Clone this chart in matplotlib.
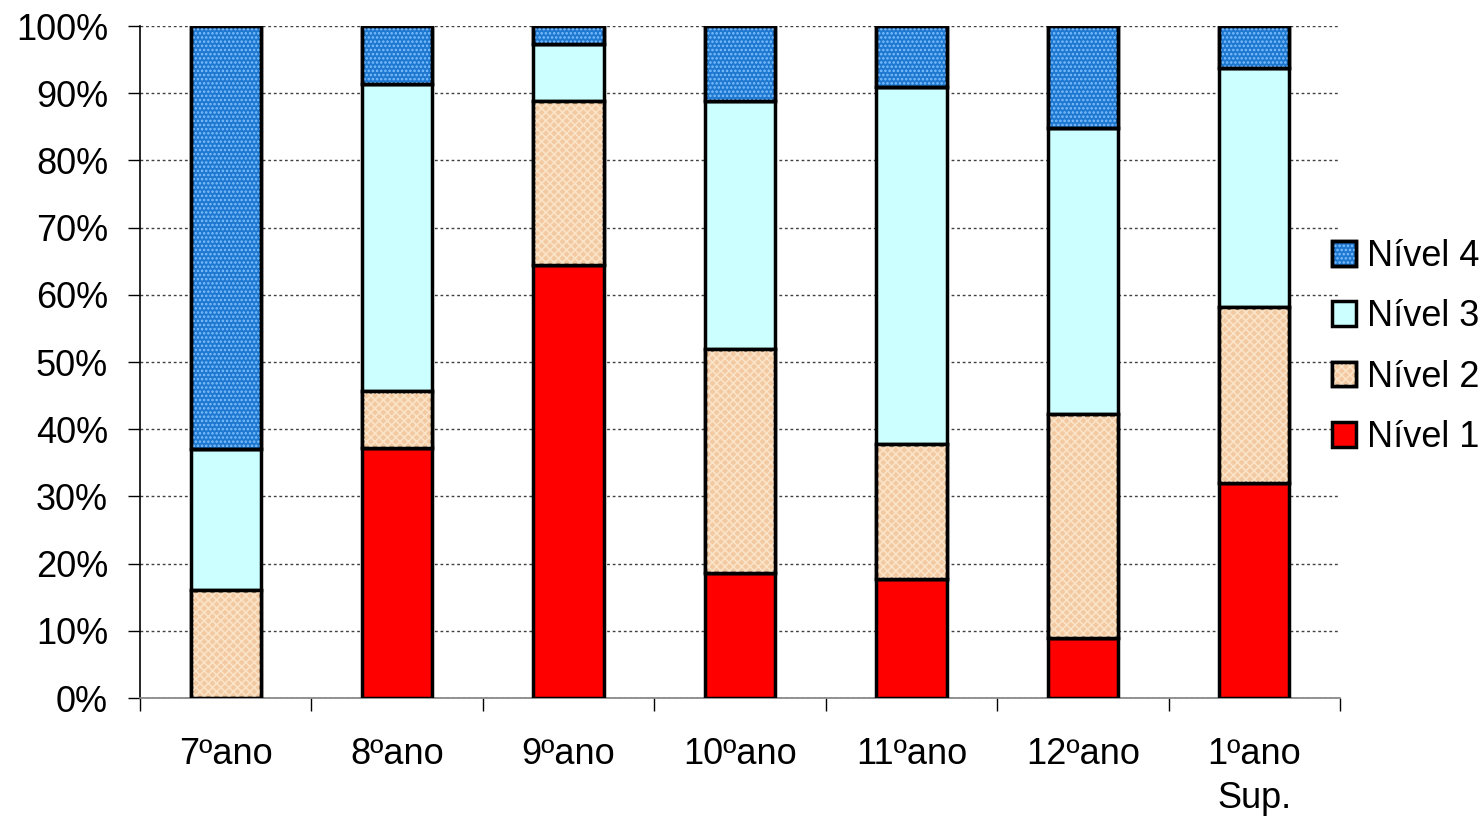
import matplotlib.pyplot as plt
import numpy as np
from matplotlib.patches import Patch
from matplotlib.legend_handler import HandlerTuple

plt.rcParams['font.family'] = ['Liberation Sans', 'DejaVu Sans']

anos = ['7ºano', '8ºano', '9ºano', '10ºano', '11ºano', '12ºano', '1ºano\nSup.']
nivel1 = [0.0, 37.2, 64.4, 18.6, 17.7, 8.9, 32.0]
nivel2 = [16.0, 8.5, 24.4, 33.3, 20.1, 33.4, 26.2]
nivel3 = [21.0, 45.7, 8.5, 36.9, 53.1, 42.5, 35.5]
nivel4 = [63.0, 8.6, 2.7, 11.2, 9.1, 15.2, 6.3]

niveis = ['Nível 1', 'Nível 2', 'Nível 3', 'Nível 4']
cores = ['#ff0000', '#f2c9a0', '#ccffff', '#1f78d0']
hatches = [None, 'xxxx', None, '....']
cor_hatch = [None, '#fbe3c8', None, '#7fc0ff']

fig = plt.figure(figsize=(14.84, 8.19), dpi=100)
ax = fig.add_axes([140 / 1484, 1 - 698 / 819, 1200 / 1484, 672 / 819])

x = np.arange(len(anos))
largura = 0.41
lw = 2.5
plt.rcParams['hatch.linewidth'] = 1.2

base = np.zeros(len(anos))
handles = []
for vals, nome, cor, h, hc in zip([nivel1, nivel2, nivel3, nivel4], niveis, cores, hatches, cor_hatch):
    vals = np.array(vals)
    mask = vals > 0
    ax.bar(x[mask], vals[mask], largura, bottom=base[mask], color=cor,
           edgecolor='black', linewidth=lw, zorder=3)
    if h:
        ax.bar(x[mask], vals[mask], largura, bottom=base[mask], fill=False,
               edgecolor=hc, linewidth=0, hatch=h, zorder=4)
        ax.bar(x[mask], vals[mask], largura, bottom=base[mask], fill=False,
               edgecolor='black', linewidth=lw, zorder=5)
        handles.append((Patch(facecolor=cor, edgecolor='black', linewidth=lw),
                        Patch(fill=False, edgecolor=hc, linewidth=0, hatch=h),
                        Patch(fill=False, edgecolor='black', linewidth=lw)))
    else:
        handles.append(Patch(facecolor=cor, edgecolor='black', linewidth=lw))
    base = base + vals

ax.set_xlim(-0.5, len(anos) - 0.5)
ax.set_ylim(0, 100)
ax.set_yticks(np.arange(0, 101, 10))
ax.set_yticklabels([f'{v}%' for v in range(0, 101, 10)], fontsize=26)
ax.set_xticks(x)
ax.set_xticklabels(anos, fontsize=26, linespacing=1.35)
ax.set_xticks(np.arange(-0.5, len(anos) - 0.4, 1), minor=True)
ax.tick_params(axis='x', which='major', length=0, pad=28)
ax.tick_params(axis='x', which='minor', length=9, width=1, direction='out')
ax.tick_params(axis='y', length=9, width=1, direction='out', pad=14)

ax.yaxis.grid(True, linestyle=(0, (2, 2)), color='#404040', linewidth=1, zorder=0)
ax.set_axisbelow(True)
for s in ['top', 'right']:
    ax.spines[s].set_visible(False)
ax.spines['left'].set_linewidth(1.2)
ax.spines['bottom'].set_linewidth(1.2)
ax.spines['bottom'].set_color('#808080')

fig.legend(handles[::-1], niveis[::-1], loc='center left',
           bbox_to_anchor=(1332 / 1484, 1 - 347 / 819),
           frameon=False, fontsize=26, handlelength=0.67, handleheight=0.67,
           handletextpad=0.3, labelspacing=0.7, borderpad=0, borderaxespad=0,
           handler_map={tuple: HandlerTuple(ndivide=1, pad=0)})

fig.savefig('out.png', dpi=100)
